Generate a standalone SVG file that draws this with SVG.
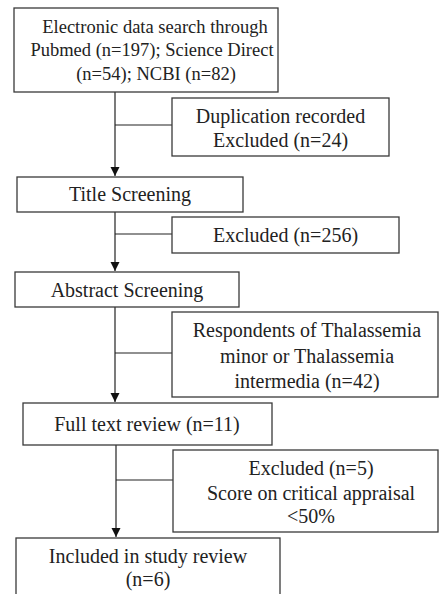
<svg xmlns="http://www.w3.org/2000/svg" width="439" height="594" viewBox="0 0 439 594">
<style>
.box{fill:#fff;stroke:#3a3a3a;stroke-width:1.3}
.t{font-size:20px;fill:#222;text-anchor:middle}
.t1{font-size:18.5px}
.c{fill:none;stroke:#222;stroke-width:1.2}
</style>
<defs>
<marker id="ah" markerUnits="userSpaceOnUse" markerWidth="10" markerHeight="11" refX="9" refY="4.5" orient="auto">
<path d="M0,0 L9,4.5 L0,9 Z" fill="#111"/>
</marker>
</defs>
<rect width="439" height="594" fill="#fff"/>
<g id="connectors">
<path class="c" d="M115,92 V176" marker-end="url(#ah)"/>
<path class="c" d="M115,125 H172"/>
<path class="c" d="M115,212 V271" marker-end="url(#ah)"/>
<path class="c" d="M115,234 H172"/>
<path class="c" d="M115,307 V402" marker-end="url(#ah)"/>
<path class="c" d="M115,353 H172"/>
<path class="c" d="M116,445 V537" marker-end="url(#ah)"/>
<path class="c" d="M116,480 H173"/>
</g>
<g font-family="'Liberation Serif', 'Times New Roman', 'DejaVu Serif', serif">
<g id="search">
<rect class="box" x="14" y="8" width="264" height="84"/>
<text class="t t1" x="155" y="33">Electronic data search through</text>
<text class="t t1" x="152" y="56">Pubmed (n=197); Science Direct</text>
<text class="t t1" x="156" y="80">(n=54); NCBI (n=82)</text>
</g>
<g id="duplication">
<rect class="box" x="172" y="98" width="217" height="58"/>
<text class="t" x="280.5" y="123">Duplication recorded</text>
<text class="t" x="280.5" y="147">Excluded (n=24)</text>
</g>
<g id="title">
<rect class="box" x="17" y="177" width="226" height="35"/>
<text class="t" x="130" y="201">Title Screening</text>
</g>
<g id="excluded256">
<rect class="box" x="172" y="217" width="227" height="36"/>
<text class="t" x="285.5" y="242">Excluded (n=256)</text>
</g>
<g id="abstract">
<rect class="box" x="15" y="272" width="224" height="35"/>
<text class="t" x="127" y="297">Abstract Screening</text>
</g>
<g id="respondents">
<rect class="box" x="172" y="312" width="266" height="85"/>
<text class="t" x="307" y="337">Respondents of Thalassemia</text>
<text class="t" x="307" y="363">minor or Thalassemia</text>
<text class="t" x="307" y="388">intermedia (n=42)</text>
</g>
<g id="fulltext">
<rect class="box" x="23" y="403" width="249" height="42"/>
<text class="t" x="147" y="431">Full text review (n=11)</text>
</g>
<g id="excluded5">
<rect class="box" x="173" y="450" width="265" height="82"/>
<text class="t" x="311" y="475">Excluded (n=5)</text>
<text class="t" x="311" y="500">Score on critical appraisal</text>
<text class="t" x="311" y="523">&lt;50%</text>
</g>
<g id="included">
<rect class="box" x="16" y="538" width="264" height="70"/>
<text class="t" x="148" y="563">Included in study review</text>
<text class="t" x="148" y="586">(n=6)</text>
</g>
</g>
</svg>
